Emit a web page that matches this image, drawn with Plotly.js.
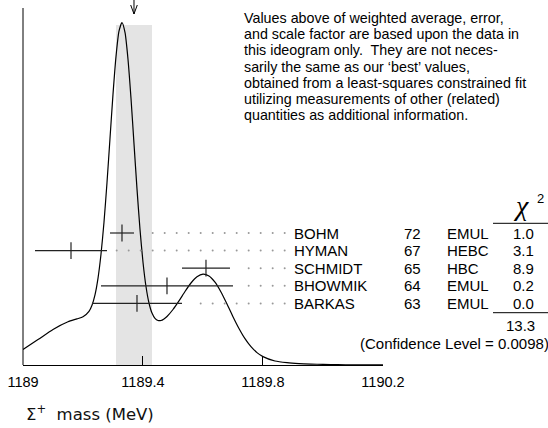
<!DOCTYPE html>
<html>
<head>
<meta charset="utf-8">
<script src="https://cdn.plot.ly/plotly-3.0.1.min.js"></script>
<style>html,body{margin:0;padding:0;background:#fff;}#chart{width:548px;height:428px;}</style>
</head>
<body>
<div id="chart"></div>
<script>
// ---- data ----
const names  = ['BOHM', 'HYMAN', 'SCHMIDT', 'BHOWMIK', 'BARKAS'];
const years  = ['72', '67', '65', '64', '63'];
const techs  = ['EMUL', 'HEBC', 'HBC', 'EMUL', 'EMUL'];
const values = [1189.33, 1189.16, 1189.61, 1189.48, 1189.38];
const errors = [0.04, 0.12, 0.08, 0.22, 0.15];
const chi2   = ['1.0', '3.1', '8.9', '0.2', '0.0'];
const chi2Total = '13.3';
const confLevel = '0.0098';
const average = 1189.37;
const averageError = 0.06;
const tickVals = [1189, 1189.4, 1189.8, 1190.2];
const tickText = ['1189', '1189.4', '1189.8', '1190.2'];
const curveX = [1189.00, 1189.05, 1189.10, 1189.15, 1189.18, 1189.20, 1189.22, 1189.23, 1189.24, 1189.25,
                1189.26, 1189.27, 1189.28, 1189.29, 1189.30, 1189.31, 1189.32, 1189.33, 1189.34, 1189.35,
                1189.36, 1189.37, 1189.38, 1189.39, 1189.40, 1189.41, 1189.42, 1189.43, 1189.44, 1189.45,
                1189.46, 1189.47, 1189.48, 1189.50, 1189.52, 1189.54, 1189.56, 1189.58, 1189.60, 1189.62,
                1189.64, 1189.66, 1189.68, 1189.70, 1189.72, 1189.74, 1189.76, 1189.78, 1189.80, 1189.84,
                1189.88, 1189.92, 1189.96, 1190.00, 1190.05, 1190.10, 1190.15, 1190.20];
const curveY = [15.6, 25.4, 35.6, 43.3, 46.1, 48.2, 53.6, 59.8, 70.2, 86.7,
                110.7, 142.8, 182.3, 226.5, 270.6, 308.4, 333.8, 342.4, 332.6, 305.8,
                266.7, 221.4, 176.1, 135.7, 102.8, 78.5, 62.0, 51.9, 46.6, 44.5,
                44.5, 46.1, 48.5, 55.5, 64.1, 73.5, 82.0, 88.2, 90.8, 89.0,
                82.8, 73.0, 61.0, 48.3, 36.5, 26.3, 18.3, 12.4, 8.4, 4.0,
                2.3, 1.4, 0.9, 0.6, 0.35, 0.2, 0.1, 0.05];
const noteLines = [
  'Values above of weighted average, error,',
  'and scale factor are based upon the data in',
  'this ideogram only.  They are not neces-',
  'sarily the same as our \u2018best\u2019 values,',
  'obtained from a least-squares constrained fit',
  'utilizing measurements of other (related)',
  'quantities as additional information.'
];
const xTitle = '\u03A3<sup>+</sup>  mass (MeV)';

// ---- layout helpers ----
const YMAX = 365;                 // y axis in pixel-height units
const rowTop = 132, rowStep = 17.6;
const rowY = names.map((_, i) => rowTop - i * rowStep);
const pxToPaperX = p => (p - 23) / 360;
const sans = 'Liberation Sans, Arial, Helvetica, sans-serif';
const txtFont = {family: sans, size: 15, color: '#000'};
const noteFont = {family: sans, size: 14.3, color: '#000'};

// dotted leaders
const dotX = [], dotY = [];
rowY.forEach((y, i) => {
  for (let k = 0; k < 15; k++) {
    const x = 1189.3123 + 0.04 * k;
    if (x > values[i] + errors[i] + 0.027) { dotX.push(x); dotY.push(y); }
  }
});

const traces = [
  {x: curveX, y: curveY, mode: 'lines', line: {color: '#000', width: 1.2, shape: 'spline', smoothing: 0.6},
   hoverinfo: 'skip'},
  {x: dotX, y: dotY, mode: 'markers', marker: {size: 2, color: '#999'}, hoverinfo: 'skip'},
  {x: values, y: rowY, mode: 'markers',
   error_x: {type: 'data', array: errors, visible: true, width: 0, thickness: 1.2, color: '#222'},
   marker: {symbol: 'line-ns-open', size: 12, color: '#222', line: {width: 1.2, color: '#222'}}, hoverinfo: 'skip'},
  // arrow marking the weighted average
  {x: [average, average], y: [YMAX, YMAX - 14], mode: 'lines', line: {color: '#000', width: 1},
   cliponaxis: false, hoverinfo: 'skip'},
  {x: [average - 0.011, average, average + 0.011], y: [YMAX - 5, YMAX - 14, YMAX - 5], mode: 'lines',
   line: {color: '#000', width: 1}, cliponaxis: false, hoverinfo: 'skip'}
];

const annotations = [];
rowY.forEach((y, i) => {
  annotations.push({xref: 'paper', yref: 'y', x: pxToPaperX(292), y: y, text: names[i], xanchor: 'left', yanchor: 'middle', showarrow: false, font: txtFont});
  annotations.push({xref: 'paper', yref: 'y', x: pxToPaperX(402), y: y, text: years[i], xanchor: 'left', yanchor: 'middle', showarrow: false, font: txtFont});
  annotations.push({xref: 'paper', yref: 'y', x: pxToPaperX(445), y: y, text: techs[i], xanchor: 'left', yanchor: 'middle', showarrow: false, font: txtFont});
  annotations.push({xref: 'paper', yref: 'y', x: pxToPaperX(523), y: y, text: chi2[i], xanchor: 'center', yanchor: 'middle', showarrow: false, font: txtFont});
});
annotations.push({xref: 'paper', yref: 'y', x: pxToPaperX(521), y: YMAX - 205, text: '<i>\u03C7</i>', xanchor: 'center', yanchor: 'middle', showarrow: false,
  font: {family: 'Liberation Serif, Times New Roman, serif', size: 28, color: '#000'}});
annotations.push({xref: 'paper', yref: 'y', x: pxToPaperX(540), y: YMAX - 198, text: '2', xanchor: 'center', yanchor: 'middle', showarrow: false,
  font: {family: sans, size: 13, color: '#000'}});
annotations.push({xref: 'paper', yref: 'y', x: pxToPaperX(520), y: YMAX - 325, text: chi2Total, xanchor: 'center', yanchor: 'middle', showarrow: false, font: txtFont});
annotations.push({xref: 'paper', yref: 'y', x: pxToPaperX(551), y: YMAX - 343, text: '(Confidence Level = ' + confLevel + ')', xanchor: 'right', yanchor: 'middle', showarrow: false, font: txtFont});
noteLines.forEach((t, i) => {
  annotations.push({xref: 'paper', yref: 'y', x: pxToPaperX(242), y: YMAX - 18 - i * 16.2, text: t, xanchor: 'left', yanchor: 'middle', showarrow: false, font: noteFont});
});
annotations.push({xref: 'paper', yref: 'paper', x: pxToPaperX(24), y: -(413 - 365) / 365, text: xTitle, xanchor: 'left', yanchor: 'middle', showarrow: false,
  font: {family: 'DejaVu Sans, sans-serif', size: 16.5, color: '#111'}});

const shapes = [
  {type: 'rect', xref: 'x', yref: 'y', x0: average - averageError, x1: average + averageError, y0: 0, y1: YMAX - 25,
   fillcolor: '#e4e4e4', line: {width: 0}, layer: 'below'},
  {type: 'line', xref: 'paper', yref: 'y', x0: 0, x1: 0, y0: 0, y1: YMAX - 8, line: {color: '#000', width: 1}},
  {type: 'line', xref: 'paper', yref: 'y', x0: pxToPaperX(493), x1: pxToPaperX(549), y0: YMAX - 223.3, y1: YMAX - 223.3, line: {color: '#000', width: 1}},
  {type: 'line', xref: 'paper', yref: 'y', x0: pxToPaperX(493), x1: pxToPaperX(549), y0: YMAX - 312.7, y1: YMAX - 312.7, line: {color: '#000', width: 1}}
];

const layout = {
  width: 548, height: 428, autosize: false,
  margin: {l: 23, r: 165, t: 0, b: 63, pad: 0},
  paper_bgcolor: '#fff', plot_bgcolor: '#fff', showlegend: false,
  xaxis: {range: [1189, 1190.2001], tickmode: 'array', tickvals: tickVals, ticktext: tickText,
          ticks: 'inside', ticklen: 9, tickwidth: 1, tickcolor: '#000', ticklabelstandoff: 4,
          showline: true, linecolor: '#000', linewidth: 1, showgrid: false, zeroline: false,
          tickfont: {family: sans, size: 14.5, color: '#000'}, fixedrange: true},
  yaxis: {range: [0, YMAX], visible: false, fixedrange: true},
  shapes: shapes, annotations: annotations
};

Plotly.newPlot('chart', traces, layout, {displayModeBar: false, staticPlot: true});
</script>
</body>
</html>
